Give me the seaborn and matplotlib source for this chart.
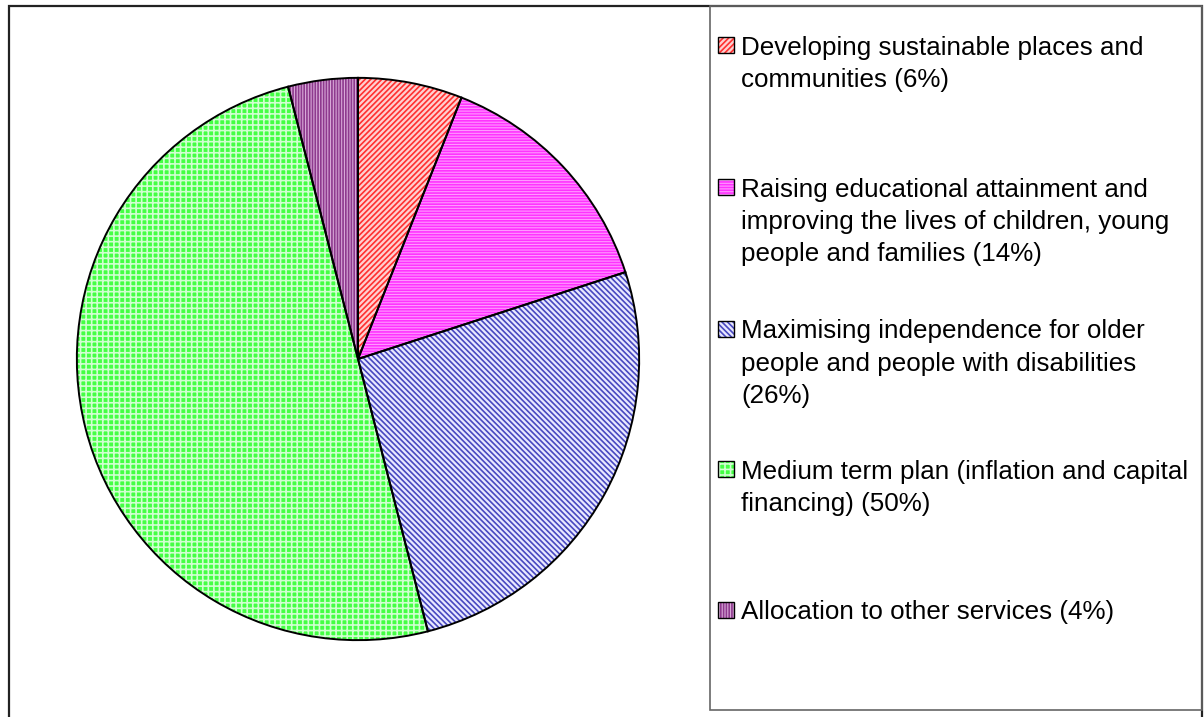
import matplotlib
matplotlib.use("Agg")
import matplotlib.pyplot as plt
from matplotlib.patches import Rectangle
import seaborn as sns

# ---- data ----
categories = [
    "Developing sustainable places and\ncommunities (6%)",
    "Raising educational attainment and\nimproving the lives of children, young\npeople and families (14%)",
    "Maximising independence for older\npeople and people with disabilities\n(26%)",
    "Medium term plan (inflation and capital\nfinancing) (50%)",
    "Allocation to other services (4%)",
]
values = [6, 14, 26, 50, 4]

# ---- styles ----
face_colors = ["#FFD0D0", "#FF99FF", "#E8E8FF", "#44FF44", "#D8A8D8"]
hatch_colors = ["#FF3030", "#FF33FF", "#4848C0", "#D0FFD0", "#8E3A8E"]
hatches = ["//////", "------", "\\\\\\\\\\\\", "+++", "||||||"]

sns.set_theme(style="white")
plt.rcParams["font.family"] = ["Liberation Sans", "DejaVu Sans"]
plt.rcParams["hatch.linewidth"] = 1.2

W, H = 1204, 717
fig = plt.figure(figsize=(W / 100, H / 100), dpi=100)
fig.patch.set_facecolor("white")

# pie axes: center (358, 359) px, radius 282 px
cx, cy, r = 358, 359, 282
ax = fig.add_axes([(cx - r) / W, (H - cy - r) / H, 2 * r / W, 2 * r / H])

# hatched fills
wedges, _ = ax.pie(values, startangle=90, counterclock=False, radius=1,
                   colors=face_colors,
                   wedgeprops=dict(linewidth=0))
for w, hc, h in zip(wedges, hatch_colors, hatches):
    w.set_edgecolor(hc)
    w.set_hatch(h)
    w.set_linewidth(0)
# black outlines
ax.pie(values, startangle=90, counterclock=False, radius=1,
       colors=["none"] * len(values),
       wedgeprops=dict(linewidth=1.4, edgecolor="black", fill=False))
ax.set_xlim(-1.003, 1.003)
ax.set_ylim(-1.003, 1.003)
ax.set_aspect("equal")
ax.axis("off")

# outer frame and legend frame (figure pixel coords)
def px_rect(x0, y0, x1, y1, **kw):
    fig.patches.append(Rectangle((x0 / W, 1 - y1 / H), (x1 - x0) / W, (y1 - y0) / H,
                                 transform=fig.transFigure, fill=False, **kw))

px_rect(8.5, 5.5, 1201.5, 730, linewidth=1.6, edgecolor="#222222")
px_rect(709.5, 5.5, 1201.5, 710, linewidth=1.2, edgecolor="#666666")

# legend entries
first_line_y = [45, 187, 329, 469, 610]
pitch = 32
for lab, fc, hc, h, y0 in zip(categories, face_colors, hatch_colors, hatches, first_line_y):
    sq = Rectangle((718 / W, 1 - (y0 + 8) / H), 16 / W, 16 / H, transform=fig.transFigure,
                   facecolor=fc, edgecolor=hc, hatch=h, linewidth=0)
    fig.patches.append(sq)
    fig.patches.append(Rectangle((718 / W, 1 - (y0 + 8) / H), 16 / W, 16 / H,
                                 transform=fig.transFigure, fill=False,
                                 edgecolor="black", linewidth=1.0))
    for i, line in enumerate(lab.split("\n")):
        fig.text(741 / W, 1 - (y0 + i * pitch) / H, line, fontsize=18.7,
                 ha="left", va="center_baseline", color="black")

fig.savefig("out.png", dpi=100, facecolor="white")
